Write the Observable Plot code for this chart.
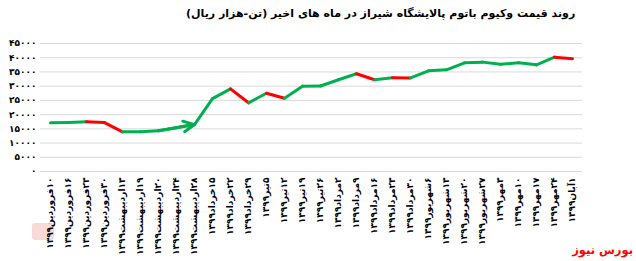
<!DOCTYPE html>
<html><head><meta charset="utf-8">
<script src="https://cdn.jsdelivr.net/npm/d3@7"></script>
<script src="https://cdn.jsdelivr.net/npm/@observablehq/plot@0.6"></script>
<style>
body{margin:0;background:#fff;width:636px;height:261px;overflow:hidden;position:relative;font-family:"DejaVu Sans",sans-serif}
#chart{position:absolute;left:0;top:30px}
#chart svg{display:block}
#overlay{position:absolute;left:0;top:0}
#mark{position:absolute;left:32px;top:223px;width:22px;height:17px;background:#f08080;opacity:0.3;border-radius:3px}
</style></head><body>
<div id="mark"></div>
<div id="chart"></div>
<svg id="overlay" width="636" height="261"></svg>
<script>
const titleText = "روند قیمت وکیوم باتوم پالایشگاه شیراز در ماه های اخیر (تن-هزار ریال)";
const logoText = "بورس نیوز";
const dates = [
  "۱۰فروردین۱۳۹۹","۱۶فروردین۱۳۹۹","۲۳فروردین۱۳۹۹","۳۰فروردین۱۳۹۹",
  "۱۳اردیبهشت۱۳۹۹","۱۹اردیبهشت۱۳۹۹","۲۰اردیبهشت۱۳۹۹","۲۴اردیبهشت۱۳۹۹","۲۸اردیبهشت۱۳۹۹",
  "۱۵خرداد۱۳۹۹","۲۲خرداد۱۳۹۹","۲۹خرداد۱۳۹۹",
  "۵تیر۱۳۹۹","۱۲تیر۱۳۹۹","۱۹تیر۱۳۹۹","۲۶تیر۱۳۹۹",
  "۲مرداد۱۳۹۹","۹مرداد۱۳۹۹","۱۶مرداد۱۳۹۹","۲۳مرداد۱۳۹۹","۳۰مرداد۱۳۹۹",
  "۶شهریور۱۳۹۹","۱۳شهریور۱۳۹۹","۲۰شهریور۱۳۹۹","۲۷شهریور۱۳۹۹",
  "۳مهر۱۳۹۹","۱۰مهر۱۳۹۹","۱۷مهر۱۳۹۹","۲۴مهر۱۳۹۹","۱آبان۱۳۹۹"
];
const prices = [
  17100, 17250, 17450, 17200, 13950, 14000, 14300, 15350, 16500,
  25600, 29050, 24150, 27500, 25750, 30000, 30050, 32250, 34350,
  32250, 32950, 32900, 35400, 35750, 38200, 38450, 37700, 38200,
  37500, 40200, 39650
];
// colour of each segment from point i to point i+1
const trend = [
  "up","up","down","down","up","up","up","up","up","up",
  "down","up","down","up","up","up","up","down","up","down",
  "up","up","up","up","up","up","up","up","down"
];
const yTicks = [0,5000,10000,15000,20000,25000,30000,35000,40000,45000];
const arrowFrom = 6, arrowTo = 8;

const RLM = "\u200F";
const faDigits = "۰۱۲۳۴۵۶۷۸۹";
const fa = v => String(v).replace(/\d/g, c => faDigits[+c]);

const segs = trend.map((t, i) => ({x1: dates[i], y1: prices[i], x2: dates[i+1], y2: prices[i+1], t}));
const arrowSeg = [{x1: dates[arrowFrom], y1: prices[arrowFrom], x2: dates[arrowTo], y2: prices[arrowTo]}];

const chart = Plot.plot({
  width: 636, height: 231,
  marginLeft: 40, marginRight: 54, marginTop: 13, marginBottom: 90,
  style: {fontFamily: "DejaVu Sans, sans-serif", background: "transparent", color: "#000"},
  x: {type: "point", domain: dates, padding: 0.5, label: null},
  y: {domain: [0, 45000], label: null},
  color: {domain: ["up","down"], range: ["#00b050","#ff0000"]},
  marks: [
    Plot.gridY(yTicks, {stroke: "#d9d9d9", strokeOpacity: 1}),
    Plot.axisY(yTicks, {tickSize: 0, tickPadding: 4, tickFormat: fa, fontSize: 9, fontWeight: "bold"}),
    Plot.axisX({tickSize: 0, tickRotate: -90, tickPadding: 6, tickFormat: d => RLM + d, fontSize: 9, fontWeight: "bold"}),
    Plot.link(segs, {x1: "x1", y1: "y1", x2: "x2", y2: "y2", stroke: "t", strokeWidth: 3, strokeLinecap: "round"}),
    Plot.arrow(arrowSeg, {x1: "x1", y1: "y1", x2: "x2", y2: "y2", stroke: "#00b050", strokeWidth: 3, headAngle: 52, headLength: 8})
  ]
});
document.getElementById("chart").appendChild(chart);

const ov = d3.select("#overlay");
ov.append("text").attr("x", 186).attr("y", 17).attr("text-anchor", "start")
  .attr("font-family", "DejaVu Sans, sans-serif").attr("font-weight", "bold").attr("font-size", 11)
  .attr("fill", "#000").text(RLM + titleText + RLM);
ov.append("text").attr("x", 633).attr("y", 254).attr("text-anchor", "end")
  .attr("font-family", "DejaVu Sans, sans-serif").attr("font-weight", "bold").attr("font-size", 11.5)
  .attr("fill", "#f00").text(RLM + logoText + RLM);
</script>
</body></html>
